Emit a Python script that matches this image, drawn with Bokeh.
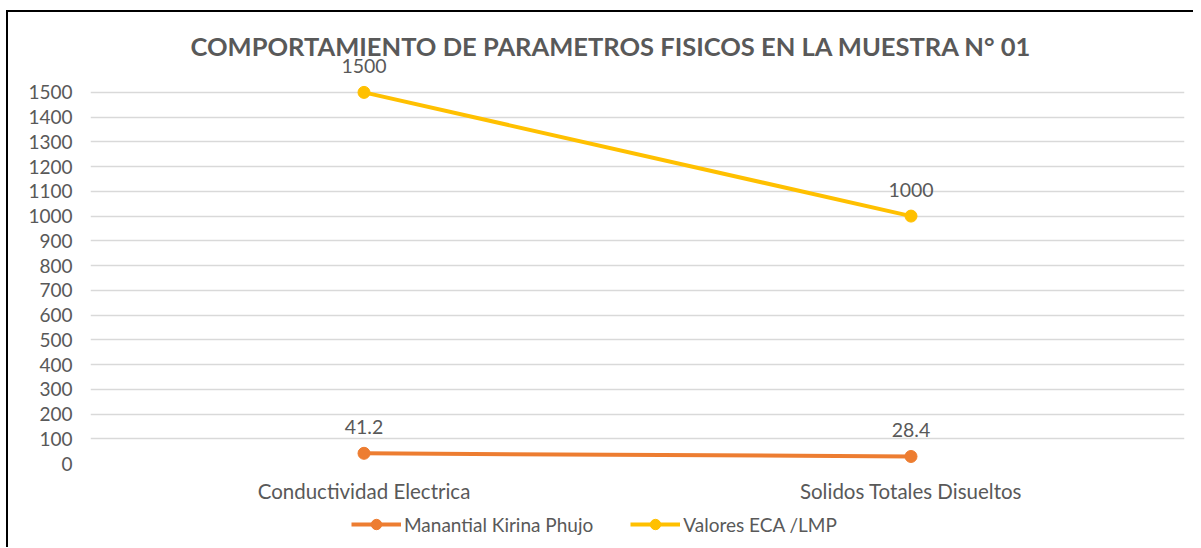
from bokeh.plotting import figure
from bokeh.layouts import column
from bokeh.models import (ColumnDataSource, LabelSet, Legend, LegendItem, FactorRange,
                          Range1d, FixedTicker, Title)
from bokeh.core.properties import value
from bokeh.embed import file_html
from bokeh.resources import INLINE

categories = ["Conductividad Electrica", "Solidos Totales Disueltos"]
manantial = [41.2, 28.4]
eca = [1500, 1000]
series_names = ["Manantial Kirina Phujo", "Valores ECA /LMP"]
y_ticks = list(range(0, 1501, 100))
title_text = "COMPORTAMIENTO DE PARAMETROS FISICOS EN LA MUESTRA N° 01"

FONT = "Lato"
GREY = "#595959"
ORANGE = "#ED7D31"
YELLOW = "#FFC000"

p = figure(x_range=FactorRange(*categories), y_range=Range1d(0, 1641),
           width=1185, height=493, output_backend="svg", toolbar_location=None,
           min_border_left=82, min_border_right=9, min_border_top=45, min_border_bottom=41)
p.title = Title(text=title_text, align="left", offset=100, text_font=FONT,
                text_font_size="25.5px", text_font_style="bold", text_color=GREY,
                standoff=-6)
p.outline_line_color = None

p.xgrid.grid_line_color = None
p.ygrid.grid_line_color = "#D9D9D9"
p.ygrid.grid_line_width = 1.5
p.yaxis.ticker = FixedTicker(ticks=y_ticks)
for ax in (p.xaxis, p.yaxis):
    ax.axis_line_color = None
    ax.major_tick_line_color = None
    ax.minor_tick_line_color = None
    ax.major_tick_out = 0
    ax.major_tick_in = 0
    ax.major_label_text_font = FONT
    ax.major_label_text_color = GREY
p.yaxis.major_label_text_font_size = "19px"
p.xaxis.major_label_text_font_size = "20.5px"
p.yaxis.major_label_standoff = 18
p.xaxis.major_label_standoff = 15

src = ColumnDataSource(dict(cat=categories, man=manantial, eca=eca,
                            man_lbl=[str(v) for v in manantial],
                            eca_lbl=[str(v) for v in eca]))

p.line("cat", "man", source=src, line_color=ORANGE, line_width=4)
p.scatter("cat", "man", source=src, size=12, color=ORANGE)
p.line("cat", "eca", source=src, line_color=YELLOW, line_width=4)
p.scatter("cat", "eca", source=src, size=12, color=YELLOW)

for col, ycol in (("man_lbl", "man"), ("eca_lbl", "eca")):
    p.add_layout(LabelSet(x="cat", y=ycol, text=col, source=src, y_offset=26,
                          text_align="center", text_baseline="middle",
                          text_font=value(FONT), text_font_size=value("19.5px"),
                          text_color=GREY))

# legend strip below the chart (its glyphs lie outside its own y range)
lg = figure(x_range=p.x_range, y_range=Range1d(-1, 0), width=1185, height=42,
            output_backend="svg", toolbar_location=None,
            x_axis_location=None, y_axis_location=None,
            min_border_left=0, min_border_right=0, min_border_top=0, min_border_bottom=0)
lg.outline_line_color = None
lg.grid.grid_line_color = None
l1 = lg.line("cat", "man", source=src, line_color=ORANGE, line_width=4)
c1 = lg.scatter("cat", "man", source=src, size=12, color=ORANGE)
l2 = lg.line("cat", "eca", source=src, line_color=YELLOW, line_width=4)
c2 = lg.scatter("cat", "eca", source=src, size=12, color=YELLOW)
legend = Legend(items=[LegendItem(label=series_names[0], renderers=[l1, c1]),
                       LegendItem(label=series_names[1], renderers=[l2, c2])],
                orientation="horizontal", location=(261, 10), margin=0, padding=4,
                glyph_width=50, glyph_height=26, label_standoff=3, spacing=37,
                label_text_font=FONT, label_text_font_size="19px", label_text_color=GREY,
                border_line_color=None, background_fill_alpha=0)
lg.add_layout(legend)

layout = column(p, lg, spacing=0, margin=(10, 0, 0, 6),
                styles={"border-left": "2px solid black", "border-top": "2px solid black"})

open("out.html", "w").write(file_html(layout, INLINE))
